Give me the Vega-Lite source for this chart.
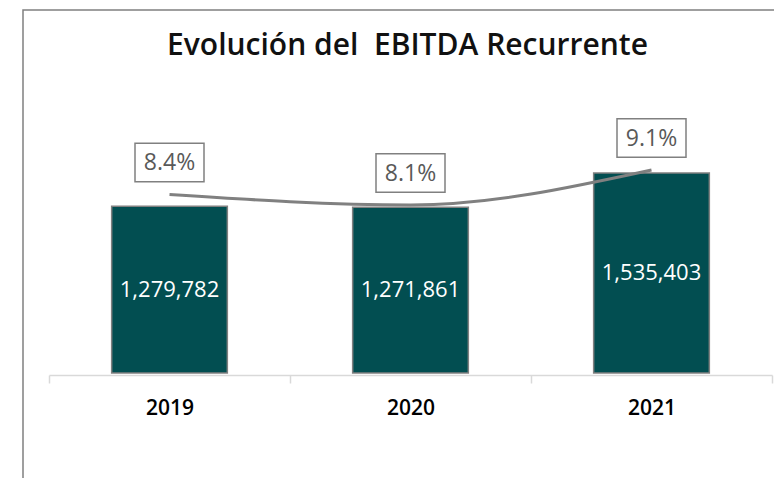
{
  "$schema": "https://vega.github.io/schema/vega-lite/v6.json",
  "autosize": {"type": "none"},
  "width": 753,
  "height": 470,
  "padding": {"left": 23, "top": 10, "right": 0, "bottom": 0},
  "background": "white",
  "config": {
    "view": {"stroke": "#808080", "strokeWidth": 1.5},
    "font": "Open Sans"
  },
  "title": {
    "text": "Evolución del\u00a0 EBITDA Recurrente",
    "font": "Open Sans",
    "fontSize": 30,
    "fontWeight": 600,
    "color": "#111111",
    "baseline": "top",
    "offset": -24,
    "dy": 27,
    "dx": 8,
    "anchor": "middle"
  },
  "data": {
    "values": [
      {"year": "2019", "value": 1279782, "pct": 0.084},
      {"year": "2020", "value": 1271861, "pct": 0.081},
      {"year": "2021", "value": 1535403, "pct": 0.091}
    ]
  },
  "encoding": {
    "x": {
      "field": "year",
      "type": "nominal",
      "scale": {"range": [26, 749], "paddingInner": 0, "paddingOuter": 0},
      "axis": {
        "title": null,
        "orient": "bottom",
        "offset": -105,
        "tickBand": "extent",
        "domainColor": "#d9d9d9",
        "domainWidth": 1.5,
        "tickColor": "#d9d9d9",
        "tickWidth": 1.5,
        "tickSize": 8,
        "labelAngle": 0,
        "labelFont": "Open Sans",
        "labelFontSize": 21,
        "labelFontWeight": 600,
        "labelColor": "#000000",
        "labelPadding": 14,
        "labelBaseline": "top",
        "grid": false
      }
    }
  },
  "layer": [
    {
      "mark": {"type": "bar", "width": {"band": 0.48}, "fill": "#024e51", "stroke": "#808080", "strokeWidth": 1.5},
      "encoding": {
        "y": {"field": "value", "type": "quantitative", "scale": {"domain": [0, 2072800], "range": [363, 93], "nice": false, "zero": true}, "axis": null}
      }
    },
    {
      "mark": {"type": "text", "color": "white", "fontSize": 22, "font": "Open Sans", "fontWeight": 500, "baseline": "middle", "align": "center"},
      "encoding": {
        "y": {"field": "value", "type": "quantitative", "scale": {"domain": [0, 4145600], "range": [363, 93], "nice": false}, "axis": null},
        "text": {"field": "value", "type": "quantitative", "format": ","}
      }
    },
    {
      "mark": {"type": "line", "interpolate": "monotone", "stroke": "#808080", "strokeWidth": 3},
      "encoding": {
        "y": {"field": "pct", "type": "quantitative", "scale": {"domain": [0.033, 0.11014], "range": [363, 93], "nice": false, "zero": false}, "axis": null}
      }
    },
    {
      "mark": {"type": "point", "shape": "M-1,-0.56H1V0.56H-1Z", "size": 4761, "filled": false, "fill": "white", "fillOpacity": 1, "stroke": "#808080", "strokeWidth": 1.5, "opacity": 1, "yOffset": -32},
      "encoding": {
        "y": {"field": "pct", "type": "quantitative", "scale": {"domain": [0.033, 0.11014], "range": [363, 93], "nice": false, "zero": false}, "axis": null}
      }
    },
    {
      "mark": {"type": "text", "color": "#595959", "fontSize": 23, "font": "Open Sans", "baseline": "middle", "align": "center", "yOffset": -31},
      "encoding": {
        "y": {"field": "pct", "type": "quantitative", "scale": {"domain": [0.033, 0.11014], "range": [363, 93], "nice": false, "zero": false}, "axis": null},
        "text": {"field": "pct", "type": "quantitative", "format": ".1%"}
      }
    }
  ],
  "resolve": {"scale": {"y": "independent"}}
}
